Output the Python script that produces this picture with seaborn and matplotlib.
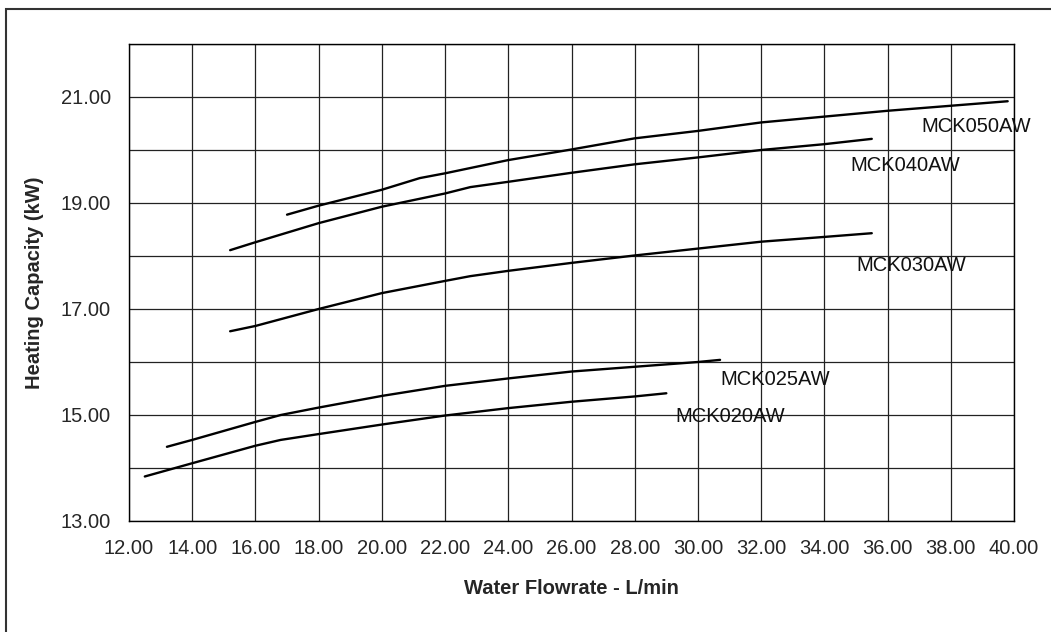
import numpy as np
import pandas as pd
import matplotlib
matplotlib.use("Agg")
import matplotlib.pyplot as plt
import seaborn as sns
from matplotlib.patches import Rectangle
from matplotlib.ticker import FormatStrFormatter

# flowrate (L/min) and heating capacity (kW)
flow050 = [17.0, 18.0, 19.0, 20.0, 21.2, 22.0, 24.0, 26.0, 28.0, 30.0, 32.0, 34.0, 36.0, 39.8]
cap050 = [18.78, 18.95, 19.10, 19.25, 19.47, 19.56, 19.81, 20.01, 20.22, 20.36, 20.52, 20.63, 20.74, 20.92]

flow040 = [15.2, 16.0, 18.0, 20.0, 22.0, 22.8, 24.0, 26.0, 28.0, 30.0, 32.0, 34.0, 35.5]
cap040 = [18.11, 18.26, 18.62, 18.93, 19.18, 19.30, 19.40, 19.57, 19.73, 19.86, 20.00, 20.11, 20.21]

flow030 = [15.2, 16.0, 18.0, 20.0, 22.0, 22.8, 24.0, 26.0, 28.0, 30.0, 32.0, 34.0, 35.5]
cap030 = [16.58, 16.68, 17.00, 17.30, 17.53, 17.62, 17.72, 17.87, 18.01, 18.14, 18.27, 18.36, 18.43]

flow025 = [13.2, 14.0, 16.0, 16.8, 18.0, 20.0, 22.0, 24.0, 26.0, 28.0, 30.0, 30.7]
cap025 = [14.40, 14.53, 14.87, 15.00, 15.14, 15.36, 15.55, 15.69, 15.82, 15.91, 16.00, 16.04]

flow020 = [12.5, 14.0, 16.0, 16.8, 18.0, 20.0, 22.0, 24.0, 26.0, 28.0, 29.0]
cap020 = [13.84, 14.09, 14.42, 14.53, 14.64, 14.82, 14.99, 15.13, 15.25, 15.35, 15.41]

models = ["MCK050AW", "MCK040AW", "MCK030AW", "MCK025AW", "MCK020AW"]
label_x = [37.07, 34.81, 35.0, 30.70, 29.29]
label_y = [20.45, 19.70, 17.82, 15.67, 14.98]

frames = []
for name, fx, cy in zip(models,
                        [flow050, flow040, flow030, flow025, flow020],
                        [cap050, cap040, cap030, cap025, cap020]):
    frames.append(pd.DataFrame({"flow": fx, "cap": cy, "model": name}))
df = pd.concat(frames, ignore_index=True)

sns.set_style("white")
plt.rcParams['font.family'] = ['Liberation Sans', 'DejaVu Sans']

fig = plt.figure(figsize=(10.51, 6.32), dpi=100)
ax = fig.add_axes([129/1051, 1 - 521/632, 885/1051, 477/632])

sns.lineplot(data=df, x="flow", y="cap", hue="model", palette=["black"] * 5,
             estimator=None, sort=False, legend=False, linewidth=1.7, ax=ax)

for name, lx, ly in zip(models, label_x, label_y):
    ax.text(lx, ly, name, fontsize=14.5, va="center", ha="left", color="#111111")

ax.set_xlim(12, 40)
ax.set_ylim(13, 22)
ax.set_xticks(np.arange(12, 41, 2))
ax.set_yticks(np.arange(13, 22, 2))
ax.set_yticks(np.arange(14, 23, 2), minor=True)
ax.xaxis.set_major_formatter(FormatStrFormatter("%.2f"))
ax.yaxis.set_major_formatter(FormatStrFormatter("%.2f"))
ax.tick_params(axis="both", which="major", direction="out", length=6, width=1,
               color="black", labelsize=14.5, pad=7)
ax.tick_params(axis="y", which="minor", length=0)
ax.grid(True, which="both", color="#222222", linewidth=0.9)
for sp in ax.spines.values():
    sp.set_color("black")
    sp.set_linewidth(1)

ax.set_xlabel("Water Flowrate - L/min", fontsize=14.5, fontweight="bold", labelpad=15)
ax.set_ylabel("Heating Capacity (kW)", fontsize=14.5, fontweight="bold", labelpad=12)

fig.patches.append(Rectangle((6/1051, -0.1), 1.2, (632 - 9)/632 + 0.1,
                             transform=fig.transFigure, fill=False,
                             edgecolor="#333333", linewidth=1.5))

fig.savefig("out.png", dpi=100)
